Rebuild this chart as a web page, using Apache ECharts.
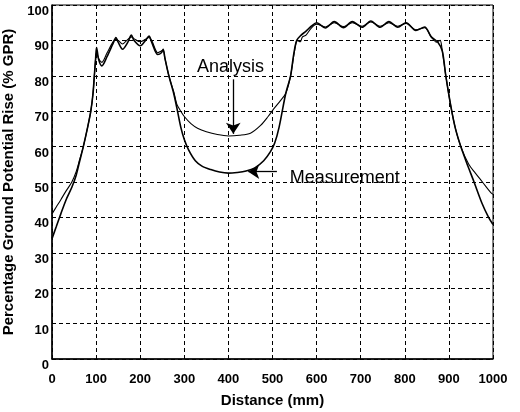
<!DOCTYPE html>
<html><head><meta charset="utf-8">
<script src="https://cdn.jsdelivr.net/npm/echarts@6/dist/echarts.min.js"></script>
<style>html,body{margin:0;padding:0;background:#fff}#c{width:520px;height:412px}</style>
</head><body><div id="c"></div>
<script>
// Tick values
const xTicks = [0,100,200,300,400,500,600,700,800,900,1000];
const yTicks = [0,10,20,30,40,50,60,70,80,90,100];

// Analysis curve (distance mm, % GPR)
const analysisDistance = [0,10,20,32,45,55,62,71,80,88,93,96,99,101,106,113,125,138,145,150,160,172,180,186,200,212,220,226,240,248,252,256,265,276,283,292,300,315,330,350,375,400,425,450,473,490,505,518,530,541,550,556,563,568,576,588,600,620,640,661,681,703,723,744,764,784,803,825,845,860,872,880,884,893,905,915,927,945,960,976,995,1000];
const analysisValues   = [41,43,45,47.5,50,53,56,60,65,70,75,80,85,86.5,84.8,83.8,86.5,89.5,90.3,90,89,90.3,91,90.5,89.6,90.3,90.8,90,86.5,87,87.3,85,80,75.5,72,70,68.5,66.5,65.2,64.2,63.4,63,63.2,63.8,66,68.5,71,73,75,80,87,90,89.6,91,91.5,93.5,94.6,93.8,95,93.9,95,94,95.2,94,95,94,94.8,93,93.6,91,89.5,90,88,80,71,65,60,55,52.5,50,47,46.5];

// Measurement curve (distance mm, % GPR)
const measurementDistance = [0,10,20,32,45,55,62,71,80,88,93,96,99,101,106,113,125,138,145,150,160,172,180,186,200,212,220,226,240,248,252,256,265,276,283,292,300,310,325,340,360,380,400,420,440,460,480,495,505,515,530,541,548,555,565,575,588,600,620,640,661,681,703,723,744,764,784,803,825,845,860,875,885,893,905,915,927,940,957,975,990,1000];
const measurementValues   = [34,37.5,41,45,48.5,52,55.5,60,65,70,75,80,85,88,84.5,82.8,85.5,89,90.8,89.5,87.5,89.5,91.5,90,88.5,90,91.2,89.5,86,86.5,87.5,85,80,75,71,65.5,62,59,56,54.5,53.5,52.8,52.5,52.7,53.1,54,56,58.5,61,65.5,75,80,86,90,91.5,92.5,94,95,93.5,95.3,93.6,95.3,93.7,95.5,93.7,95.3,93.7,95,92.8,93.8,91,89.5,87,80,71,65,60,55.5,50,44,40,38];

const zip = (xs, ys) => xs.map((x, i) => [x, ys[i]]);
const FONT = 'Liberation Sans';

const chart = echarts.init(document.getElementById('c'), null, {renderer: 'canvas'});
chart.setOption({
  animation: false,
  backgroundColor: '#fff',
  grid: {left: 52, right: 27, top: 5, bottom: 53, containLabel: false, outerBoundsMode: 'none',
         show: true, borderColor: '#000', borderWidth: 1},
  xAxis: {
    type: 'value', min: xTicks[0], max: xTicks[xTicks.length-1], interval: xTicks[1]-xTicks[0],
    name: 'Distance (mm)', nameLocation: 'middle', nameGap: 34,
    nameTextStyle: {fontFamily: FONT, fontWeight: 'bold', fontSize: 15, color: '#000'},
    axisLine: {lineStyle: {color: '#000', width: 1.5}},
    axisTick: {show: false},
    axisLabel: {fontFamily: FONT, fontWeight: 'bold', fontSize: 13, color: '#000', margin: 14,
                formatter: v => String(v)},
    splitLine: {show: true, lineStyle: {color: '#000', type: [4, 3], width: 1}}
  },
  yAxis: {
    type: 'value', min: yTicks[0], max: yTicks[yTicks.length-1], interval: yTicks[1]-yTicks[0],
    name: 'Percentage Ground Potential Rise (% GPR)', nameLocation: 'middle', nameGap: 25,
    nameTextStyle: {fontFamily: FONT, fontWeight: 'bold', fontSize: 15, color: '#000'},
    axisLine: {lineStyle: {color: '#000', width: 1.5}},
    axisTick: {show: false},
    axisLabel: {fontFamily: FONT, fontWeight: 'bold', fontSize: 13, color: '#000', margin: 3, verticalAlign: 'top',
                formatter: v => String(v)},
    splitLine: {show: true, lineStyle: {color: '#000', type: [4, 3], width: 1}}
  },
  series: [
    {
      name: 'Analysis', type: 'line', data: zip(analysisDistance, analysisValues),
      showSymbol: false, smooth: 0.3, lineStyle: {color: '#000', width: 1.1}, itemStyle: {color: '#000'},
      markLine: {
        silent: true, symbol: ['none', 'arrow'], symbolSize: 11,
        lineStyle: {color: '#000', width: 1.3, type: 'solid'}, label: {show: false},
        data: [[{coord: [411, 79]}, {coord: [411, 63.6]}]]
      },
      markPoint: {
        silent: true, symbol: 'circle', symbolSize: 1, itemStyle: {color: 'rgba(0,0,0,0)'},
        label: {show: true, position: 'inside', formatter: 'Analysis', fontFamily: FONT, fontSize: 18, color: '#000'},
        data: [{coord: [405, 82.5]}]
      }
    },
    {
      name: 'Measurement', type: 'line', data: zip(measurementDistance, measurementValues),
      showSymbol: false, smooth: 0.3, lineStyle: {color: '#000', width: 1.6}, itemStyle: {color: '#000'},
      markLine: {
        silent: true, symbol: ['none', 'arrow'], symbolSize: 11,
        lineStyle: {color: '#000', width: 1.3, type: 'solid'}, label: {show: false},
        data: [[{coord: [510, 52.9]}, {coord: [445, 52.9]}]]
      },
      markPoint: {
        silent: true, symbol: 'circle', symbolSize: 1, itemStyle: {color: 'rgba(0,0,0,0)'},
        label: {show: true, position: 'inside', formatter: 'Measurement', fontFamily: FONT, fontSize: 18, color: '#000'},
        data: [{coord: [664, 51.1]}]
      }
    }
  ]
});
</script>
</body></html>
